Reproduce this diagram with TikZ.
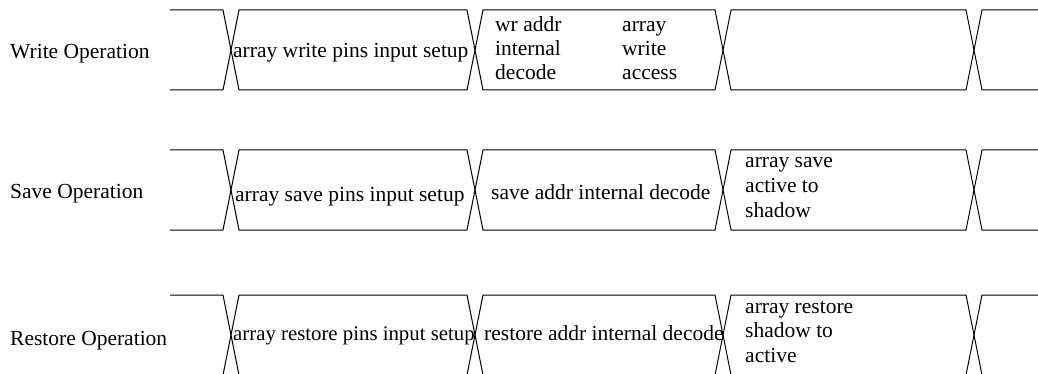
\documentclass[tikz,border=0pt]{standalone}
\usepackage{fontspec}
\setmainfont{Liberation Serif}
\begin{document}
\begin{tikzpicture}[x=1pt,y=-1pt,
  sig/.style={line width=1pt, line join=miter},
  lbl/.style={anchor=base west, inner sep=0pt, font=\fontsize{21.5}{24.5}\selectfont},
  tight/.style={font=\fontsize{20.8}{24.5}\selectfont}]
\useasboundingbox (0,0) rectangle (1038,374);
\clip (0,0) rectangle (1038,374);

% bus waveforms: top/bottom edges with crossings at 231, 475, 723, 974
\foreach \t/\b [count=\r] in {10/90,150/230,295/375} {
  \coordinate (r\r-start) at (170,\t);
  \draw[sig] (170,\t) -- (223,\t) -- (239,\b) -- (467,\b) -- (483,\t) -- (715,\t)
             -- (731,\b) -- (966,\b) -- (982,\t) -- (1038,\t);
  \draw[sig] (170,\b) -- (223,\b) -- (239,\t) -- (467,\t) -- (483,\b) -- (715,\b)
             -- (731,\t) -- (966,\t) -- (982,\b) -- (1038,\b);
}

% write operation
\node[lbl] (wop)    at (10,59)  {Write Operation};
\node[lbl] (wset)   at (233,58) {array write pins input setup};
\node[lbl] (wdec1)  at (495,32) {wr addr};
\node[lbl] (wdec2)  at (495,56) {internal};
\node[lbl] (wdec3)  at (495,80) {decode};
\node[lbl] (wacc1)  at (622,32) {array};
\node[lbl] (wacc2)  at (622,56) {write};
\node[lbl] (wacc3)  at (622,80) {access};

% save operation
\node[lbl] (sop)    at (10,199)  {Save Operation};
\node[lbl] (sset)   at (235,201) {array save pins input setup};
\node[lbl] (sdec)   at (491,200) {save addr internal decode};
\node[lbl] (sacc1)  at (745,168) {array save};
\node[lbl] (sacc2)  at (745,192.5) {active to};
\node[lbl] (sacc3)  at (745,217) {shadow};

% restore operation
\node[lbl] (rop)    at (10,345)  {Restore Operation};
\node[lbl,tight] (rset) at (233,340) {array restore pins input setup};
\node[lbl] (rdec)   at (484,340) {restore addr internal decode};
\node[lbl] (racc1)  at (745,313) {array restore};
\node[lbl] (racc2)  at (745,337.5) {shadow to};
\node[lbl] (racc3)  at (745,362) {active};
\end{tikzpicture}
\end{document}
